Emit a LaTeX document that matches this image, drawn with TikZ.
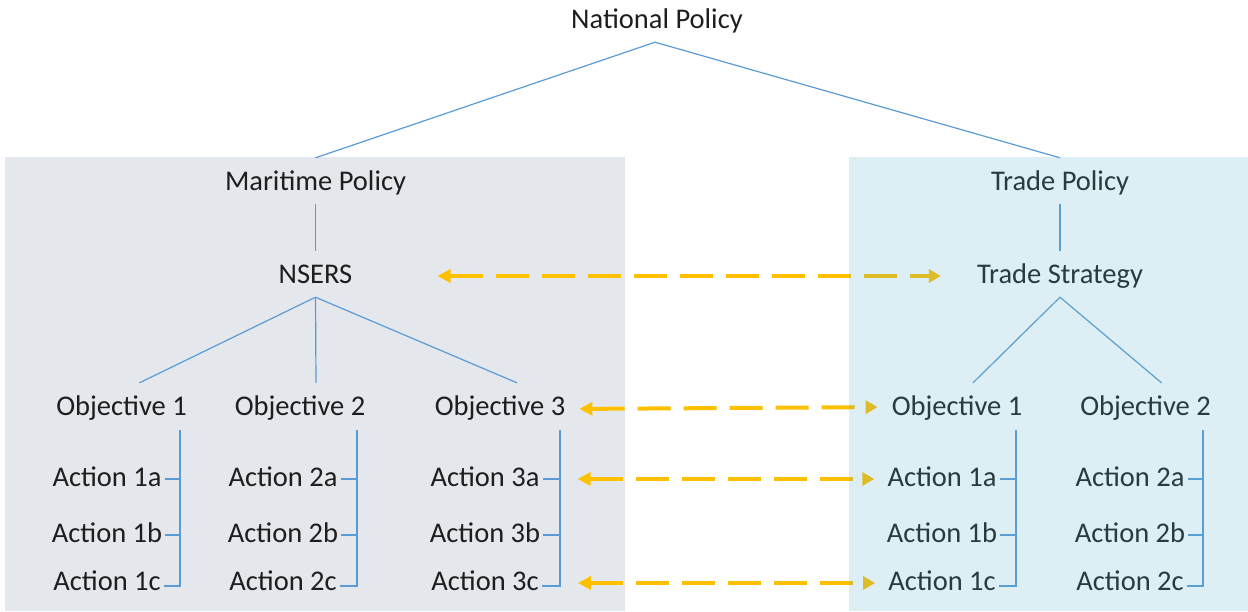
\documentclass[tikz,border=0pt]{standalone}
\usepackage{fontspec}
\setmainfont{Carlito}
\usetikzlibrary{arrows.meta,calc}
\definecolor{lpanel}{RGB}{228,231,236}
\definecolor{rtint}{RGB}{85,175,200}
\definecolor{lnblue}{RGB}{91,155,213}
\definecolor{arrowy}{RGB}{255,192,0}
\definecolor{txt}{RGB}{30,30,30}
\tikzset{
  lbl/.style={anchor=base, inner sep=0pt, text height=32pt, text depth=14pt, text=txt,
    font=\fontsize{28.5}{34}\selectfont},
  ln/.style={draw=lnblue, line width=1.2pt},
  dasharr/.style={draw=arrowy, line width=4pt, dash pattern=on 33pt off 13pt,
    {Triangle[length=13pt,width=13pt]}-{Triangle[length=12pt,width=13pt]}},
}
\begin{document}
\begin{tikzpicture}[x=1pt,y=-1pt]
\useasboundingbox (0,0) rectangle (1248,611);
\fill[white] (0,0) rectangle (1248,611);
\fill[lpanel] (5,157) rectangle (625,611);

% nodes
\node[lbl] (np) at (657,28) {National Policy};
\node[lbl] (mp) at (315.5,190) {Maritime Policy};
\node[lbl] (nsers) at (315.5,283) {NSERS};
\node[lbl] (tp) at (1060,190) {Trade Policy};
\node[lbl] (ts) at (1060,283) {Trade Strategy};

\node[lbl] (o1) at (121.5,415) {Objective 1};
\node[lbl] (o2) at (300,415) {Objective 2};
\node[lbl] (o3) at (500,415) {Objective 3};
\node[lbl] (to1) at (957,415) {Objective 1};
\node[lbl] (to2) at (1145.5,415) {Objective 2};

\node[lbl] (a1a) at (107,486) {Action 1a};
\node[lbl] (a1b) at (107,542) {Action 1b};
\node[lbl] (a1c) at (107,590) {Action 1c};
\node[lbl] (a2a) at (283,486) {Action 2a};
\node[lbl] (a2b) at (283,542) {Action 2b};
\node[lbl] (a2c) at (283,590) {Action 2c};
\node[lbl] (a3a) at (485,486) {Action 3a};
\node[lbl] (a3b) at (485,542) {Action 3b};
\node[lbl] (a3c) at (485,590) {Action 3c};
\node[lbl] (ta1a) at (942,486) {Action 1a};
\node[lbl] (ta1b) at (942,542) {Action 1b};
\node[lbl] (ta1c) at (942,590) {Action 1c};
\node[lbl] (ta2a) at (1130,486) {Action 2a};
\node[lbl] (ta2b) at (1130,542) {Action 2b};
\node[lbl] (ta2c) at (1130,590) {Action 2c};

% bracket tops
\coordinate (b1) at (180,430);
\coordinate (b2) at (357,430);
\coordinate (b3) at (560,430);
\coordinate (tb1) at (1016,430);
\coordinate (tb2) at (1203,430);

% tree lines
\draw[ln] ([xshift=-2pt]np.south) -- (mp.north);
\draw[ln] ([xshift=-2pt]np.south) -- (tp.north);
\draw[ln] (mp.south) -- (nsers.north);
\draw[ln] (tp.south) -- (ts.north);
\draw[ln] (nsers.south) -- ([xshift=18pt]o1.north);
\draw[ln] (nsers.south) -- ([xshift=16pt]o2.north);
\draw[ln] (nsers.south) -- ([xshift=17pt]o3.north);
\draw[ln] (ts.south) -- ([xshift=16pt]to1.north);
\draw[ln] (ts.south) -- ([xshift=16pt]to2.north);

% brackets
\foreach \b/\a/\c/\d in {b1/a1a/a1b/a1c, b2/a2a/a2b/a2c, b3/a3a/a3b/a3c, tb1/ta1a/ta1b/ta1c, tb2/ta2a/ta2b/ta2c}{
  \coordinate (\d-end) at ([xshift=3pt,yshift=4pt]\d.base east);
  \coordinate (\a-end) at ([xshift=3pt,yshift=7pt]\a.base east);
  \coordinate (\c-end) at ([xshift=3pt,yshift=7pt]\c.base east);
  \draw[ln] (\b) -- (\b |- \d-end) -- (\d-end);
  \draw[ln] (\a-end) -- (\b |- \a-end);
  \draw[ln] (\c-end) -- (\b |- \c-end);
}

% dashed arrows
\draw[dasharr, shorten <=85pt, shorten >=36pt] ([yshift=7pt]nsers.base east) -- ([yshift=7pt]ts.base west);
\draw[dasharr, shorten <=14pt, shorten >=14pt] ([yshift=6pt]o3.base east) -- ([yshift=8pt]to1.base west);
\draw[dasharr, shorten <=38pt, shorten >=13pt] ([yshift=7pt]a3a.base east) -- ([yshift=7pt]ta1a.base west);
\draw[dasharr, shorten <=39pt, shorten >=13pt] ([yshift=7pt]a3c.base east) -- ([yshift=7pt]ta1c.base west);

% right panel tint overlay
\fill[rtint, fill opacity=0.2] (849,157) rectangle (1248,611);
\end{tikzpicture}
\end{document}
